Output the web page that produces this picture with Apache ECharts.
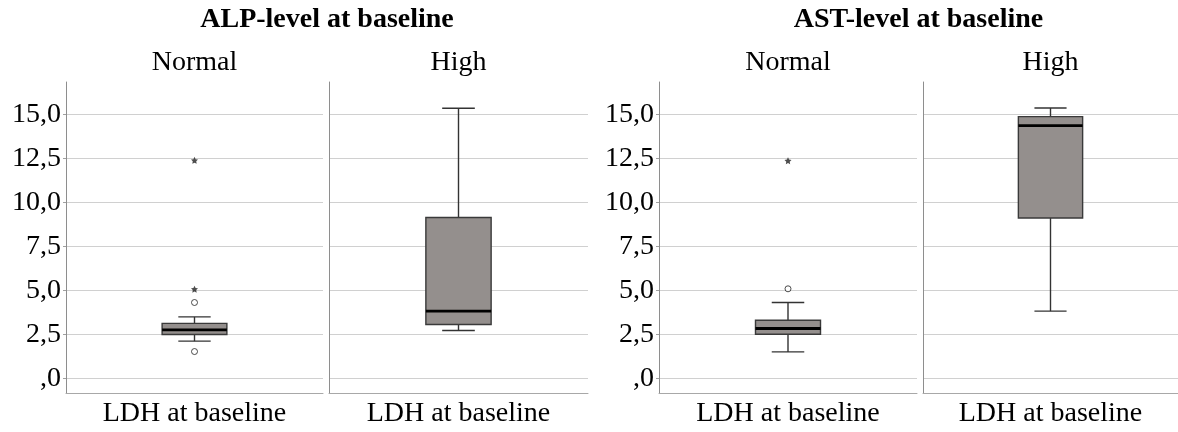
<!DOCTYPE html>
<html>
<head>
<meta charset="utf-8">
<script src="https://cdn.jsdelivr.net/npm/echarts@6/dist/echarts.min.js"></script>
<style>
html,body{margin:0;padding:0;background:#fff;}
#chart{width:1178px;height:432px;}
</style>
</head>
<body>
<div id="chart"></div>
<script>
// ---- data ----
const categories = ['LDH at baseline'];
const panelTitles = ['ALP-level at baseline', 'AST-level at baseline'];
const groupNames = ['Normal', 'High', 'Normal', 'High'];
const tickValues = [0, 2.5, 5, 7.5, 10, 12.5, 15];
// box = [lower whisker, Q1, median, Q3, upper whisker]
const alpNormalBox = [2.11, 2.49, 2.75, 3.12, 3.49];
const alpHighBox = [2.72, 3.06, 3.82, 9.15, 15.37];
const astNormalBox = [1.50, 2.50, 2.83, 3.30, 4.31];
const astHighBox = [3.82, 9.12, 14.38, 14.89, 15.38];
// outliers (circles) and extremes (stars)
const alpNormalCircles = [4.31, 1.52];
const alpNormalStars = [5.07, 12.40];
const alpHighCircles = [];
const alpHighStars = [];
const astNormalCircles = [5.09];
const astNormalStars = [12.38];
const astHighCircles = [];
const astHighStars = [];

const boxes = [alpNormalBox, alpHighBox, astNormalBox, astHighBox];
const circles = [alpNormalCircles, alpHighCircles, astNormalCircles, astHighCircles];
const stars = [alpNormalStars, alpHighStars, astNormalStars, astHighStars];

// ---- layout ----
const FONT = "'Liberation Serif','Times New Roman',serif";
const gridDefs = [
  {left: 66, width: 257},
  {left: 329, width: 259},
  {left: 659, width: 258},
  {left: 923, width: 255}
];
const GRID_TOP = 82, GRID_H = 311;
const Y_MIN = -0.84, Y_MAX = 16.86;

function fmt(v) {
  let s = Number(v).toFixed(1).replace('.', ',');
  if (s.indexOf('0,') === 0) s = s.slice(1);
  return s;
}

const grid = gridDefs.map(g => ({left: g.left, width: g.width, top: GRID_TOP, height: GRID_H, containLabel: false, outerBoundsMode: 'none'}));

const xAxis = gridDefs.map((g, i) => ({
  type: 'category', gridIndex: i, data: categories,
  axisLine: {show: true, onZero: false, lineStyle: {color: '#a8a8a8', width: 1}},
  axisTick: {show: false},
  splitLine: {show: false},
  axisLabel: {show: true, color: '#000', fontFamily: FONT, fontSize: 28, margin: 7}
}));

const yAxis = gridDefs.map((g, i) => ({
  type: 'value', gridIndex: i, min: Y_MIN, max: Y_MAX,
  axisLine: {show: true, onZero: false, lineStyle: {color: '#8e8e8e', width: 1}},
  axisTick: {show: i % 2 === 0, length: 3, inside: false, customValues: tickValues, lineStyle: {color: '#a0a0a0'}},
  splitLine: {show: true, lineStyle: {color: '#d0d0d0', width: 1.2}},
  axisLabel: {show: i % 2 === 0, customValues: tickValues, formatter: fmt, color: '#000', fontFamily: FONT, fontSize: 28, margin: 5}
}));

function renderBox(params, api) {
  const x = api.value(0);
  const lo = api.coord([x, api.value(1)]);
  const q1 = api.coord([x, api.value(2)]);
  const med = api.coord([x, api.value(3)]);
  const q3 = api.coord([x, api.value(4)]);
  const hi = api.coord([x, api.value(5)]);
  const band = api.size([1, 0])[0];
  const bw = band * 0.252;
  const cw = bw / 2;
  const cx = lo[0];
  const lineStyle = {stroke: '#333', lineWidth: 1.4, fill: null};
  return {
    type: 'group',
    children: [
      {type: 'line', shape: {x1: cx, y1: q3[1], x2: cx, y2: hi[1]}, style: lineStyle},
      {type: 'line', shape: {x1: cx, y1: q1[1], x2: cx, y2: lo[1]}, style: lineStyle},
      {type: 'line', shape: {x1: cx - cw / 2, y1: hi[1], x2: cx + cw / 2, y2: hi[1]}, style: lineStyle},
      {type: 'line', shape: {x1: cx - cw / 2, y1: lo[1], x2: cx + cw / 2, y2: lo[1]}, style: lineStyle},
      {type: 'rect', shape: {x: cx - bw / 2, y: q3[1], width: bw, height: q1[1] - q3[1]}, style: {fill: '#948f8d', stroke: '#3a3a3a', lineWidth: 1.4}},
      {type: 'line', shape: {x1: cx - bw / 2, y1: med[1], x2: cx + bw / 2, y2: med[1]}, style: {stroke: '#000', lineWidth: 2.8}}
    ]
  };
}

const STAR = 'path://M0,-10 L2.9,-4 9.5,-3.1 4.7,1.5 5.9,8.1 0,5 -5.9,8.1 -4.7,1.5 -9.5,-3.1 -2.9,-4 Z';

const series = [];
boxes.forEach((b, i) => {
  series.push({
    type: 'custom', xAxisIndex: i, yAxisIndex: i,
    renderItem: renderBox,
    encode: {x: 0, y: [1, 2, 3, 4, 5]},
    data: [[0].concat(b)],
    silent: true, animation: false
  });
  series.push({
    type: 'scatter', xAxisIndex: i, yAxisIndex: i,
    symbol: 'circle', symbolSize: 6,
    itemStyle: {color: '#fff', borderColor: '#222', borderWidth: 1},
    data: circles[i].map(v => [categories[0], v]),
    silent: true, animation: false
  });
  series.push({
    type: 'scatter', xAxisIndex: i, yAxisIndex: i,
    symbol: STAR, symbolSize: 7,
    itemStyle: {color: '#222'},
    data: stars[i].map(v => [categories[0], v]),
    silent: true, animation: false
  });
});

const titleCenters = [327, 918.5];
const groupCenters = gridDefs.map(g => g.left + g.width / 2);
const title = [];
panelTitles.forEach((t, i) => title.push({
  text: t, left: titleCenters[i], top: 6, textAlign: 'center', padding: 0,
  textStyle: {fontFamily: FONT, fontSize: 28, fontWeight: 'bold', color: '#000'}
}));
groupNames.forEach((t, i) => title.push({
  text: t, left: groupCenters[i], top: 49, textAlign: 'center', padding: 0,
  textStyle: {fontFamily: FONT, fontSize: 28, fontWeight: 'normal', color: '#000'}
}));

const chart = echarts.init(document.getElementById('chart'), null, {renderer: 'canvas'});
chart.setOption({
  animation: false,
  backgroundColor: '#fff',
  title: title,
  grid: grid,
  xAxis: xAxis,
  yAxis: yAxis,
  series: series
});
</script>
</body>
</html>
